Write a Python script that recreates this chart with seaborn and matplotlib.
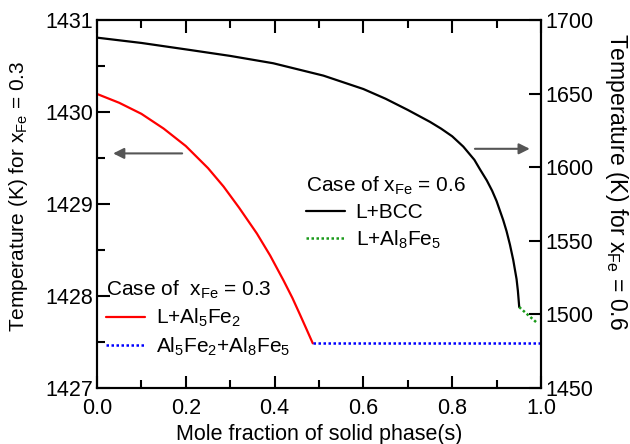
import matplotlib
matplotlib.use("Agg")
import matplotlib.pyplot as plt
import seaborn as sns

# x_Fe = 0.3 case (left axis)
frac_l_al5fe2 = [0.0, 0.05, 0.1, 0.15, 0.2, 0.25, 0.285, 0.32, 0.36, 0.39, 0.42, 0.44, 0.457, 0.47, 0.486]
temp_l_al5fe2 = [1430.196, 1430.10, 1429.98, 1429.82, 1429.63, 1429.39, 1429.19, 1428.96, 1428.68,
                 1428.44, 1428.17, 1427.98, 1427.80, 1427.66, 1427.486]
frac_al5fe2_al8fe5 = [0.486, 1.0]
temp_al5fe2_al8fe5 = [1427.486, 1427.486]

# x_Fe = 0.6 case (right axis)
frac_l_bcc = [0.0, 0.1, 0.21, 0.3, 0.397, 0.51, 0.6, 0.65, 0.7, 0.75, 0.775, 0.8, 0.825, 0.85,
              0.8625, 0.878, 0.89, 0.9, 0.915, 0.9225, 0.93, 0.9375, 0.945, 0.948, 0.951]
temp_l_bcc = [1688.0, 1684.4, 1679.6, 1675.6, 1670.6, 1662.2, 1653.1, 1646.5, 1638.9, 1630.8,
              1626.2, 1621.0, 1614.0, 1605.0, 1598.6, 1591.0, 1584.0, 1577.0, 1564.0, 1556.5,
              1547.5, 1537.0, 1524.0, 1516.0, 1505.0]
frac_l_al8fe5 = [0.951, 0.971, 0.992]
temp_l_al8fe5 = [1505.0, 1499.6, 1494.0]

sns.set_style("ticks")
plt.rcParams['font.family'] = ['Liberation Sans', 'DejaVu Sans']
plt.rcParams['mathtext.default'] = 'regular'
plt.rcParams['axes.linewidth'] = 1.5
for k in ('text.color', 'axes.labelcolor', 'xtick.color', 'ytick.color', 'axes.edgecolor'):
    plt.rcParams[k] = 'black'

fig = plt.figure(figsize=(6.3, 4.44), dpi=100)
ax = fig.add_axes([0.154, 0.126, 0.7047, 0.829])
ax2 = ax.twinx()

sns.lineplot(x=frac_l_al5fe2, y=temp_l_al5fe2, ax=ax, color='#ff0000', lw=1.6,
             label='L+Al$_5$Fe$_2$', sort=False)
sns.lineplot(x=frac_al5fe2_al8fe5, y=temp_al5fe2_al8fe5, ax=ax, color='#0000ff', lw=1.8,
             linestyle=(0, (1, 1)), label='Al$_5$Fe$_2$+Al$_8$Fe$_5$', sort=False)
sns.lineplot(x=frac_l_bcc, y=temp_l_bcc, ax=ax2, color='black', lw=1.6,
             label='L+BCC', sort=False)
sns.lineplot(x=frac_l_al8fe5, y=temp_l_al8fe5, ax=ax2, color='#1a9a1a', lw=1.8,
             linestyle=(0, (1, 1)), label='L+Al$_8$Fe$_5$', sort=False)

ax.set_xlim(0, 1)
ax.set_ylim(1427, 1431)
ax2.set_ylim(1450, 1700)
ax.set_xticks([0.0, 0.2, 0.4, 0.6, 0.8, 1.0])
ax.set_xticks([0.1, 0.3, 0.5, 0.7, 0.9], minor=True)
ax.set_yticks([1427, 1428, 1429, 1430, 1431])
ax.set_yticks([1427.5, 1428.5, 1429.5, 1430.5], minor=True)
ax2.set_yticks([1450, 1500, 1550, 1600, 1650, 1700])
ax.set_xticklabels(['0.0', '0.2', '0.4', '0.6', '0.8', '1.0'])

ax.tick_params(which='both', direction='in', top=True, right=False, labelsize=15.5, width=1.5,
               pad=3, colors='black')
ax.tick_params(axis='x', which='both', pad=7)
ax.tick_params(which='major', length=9)
ax.tick_params(which='minor', length=6)
ax2.tick_params(which='both', direction='in', labelsize=15.5, width=1.5, length=9, pad=3,
                colors='black')
for a in (ax, ax2):
    for s in a.spines.values():
        s.set_linewidth(1.5)
        s.set_color('black')

ax.set_xlabel('Mole fraction of solid phase(s)', fontsize=15.5, labelpad=4)
ax.set_ylabel('Temperature (K) for x$_{Fe}$ = 0.3', fontsize=15, va='center', ha='center')
ax.yaxis.set_label_coords(-0.176, 0.52)
ax2.set_ylabel('Temperature (K) for x$_{Fe}$ = 0.6', fontsize=16.5, rotation=-90,
               va='center', ha='center')
ax2.yaxis.set_label_coords(1.171, 0.56)

# arrows pointing to the relevant axis
ax.annotate('', xy=(0.03, 1429.55), xytext=(0.198, 1429.55),
            arrowprops=dict(arrowstyle='-|>', color='#555555', lw=1.5, mutation_scale=16))
ax.annotate('', xy=(0.981, 1429.6), xytext=(0.845, 1429.6),
            arrowprops=dict(arrowstyle='-|>', color='#555555', lw=1.5, mutation_scale=16))

h1, l1 = ax.get_legend_handles_labels()
ax.legend(h1, l1, title='Case of  x$_{Fe}$ = 0.3', title_fontsize=15, fontsize=15,
          frameon=False, loc='upper left', bbox_to_anchor=(0.02, 0.298), borderpad=0,
          borderaxespad=0, handlelength=1.9, handletextpad=0.5, labelspacing=0.3,
          alignment='left')
h2, l2 = ax2.get_legend_handles_labels()
ax2.legend(h2, l2, title='Case of x$_{Fe}$ = 0.6', title_fontsize=15, fontsize=15,
           frameon=False, loc='upper left', bbox_to_anchor=(0.47, 0.58), borderpad=0,
           borderaxespad=0, handlelength=1.9, handletextpad=0.5, labelspacing=0.3,
           alignment='left')

fig.savefig('out.png', dpi=100)
